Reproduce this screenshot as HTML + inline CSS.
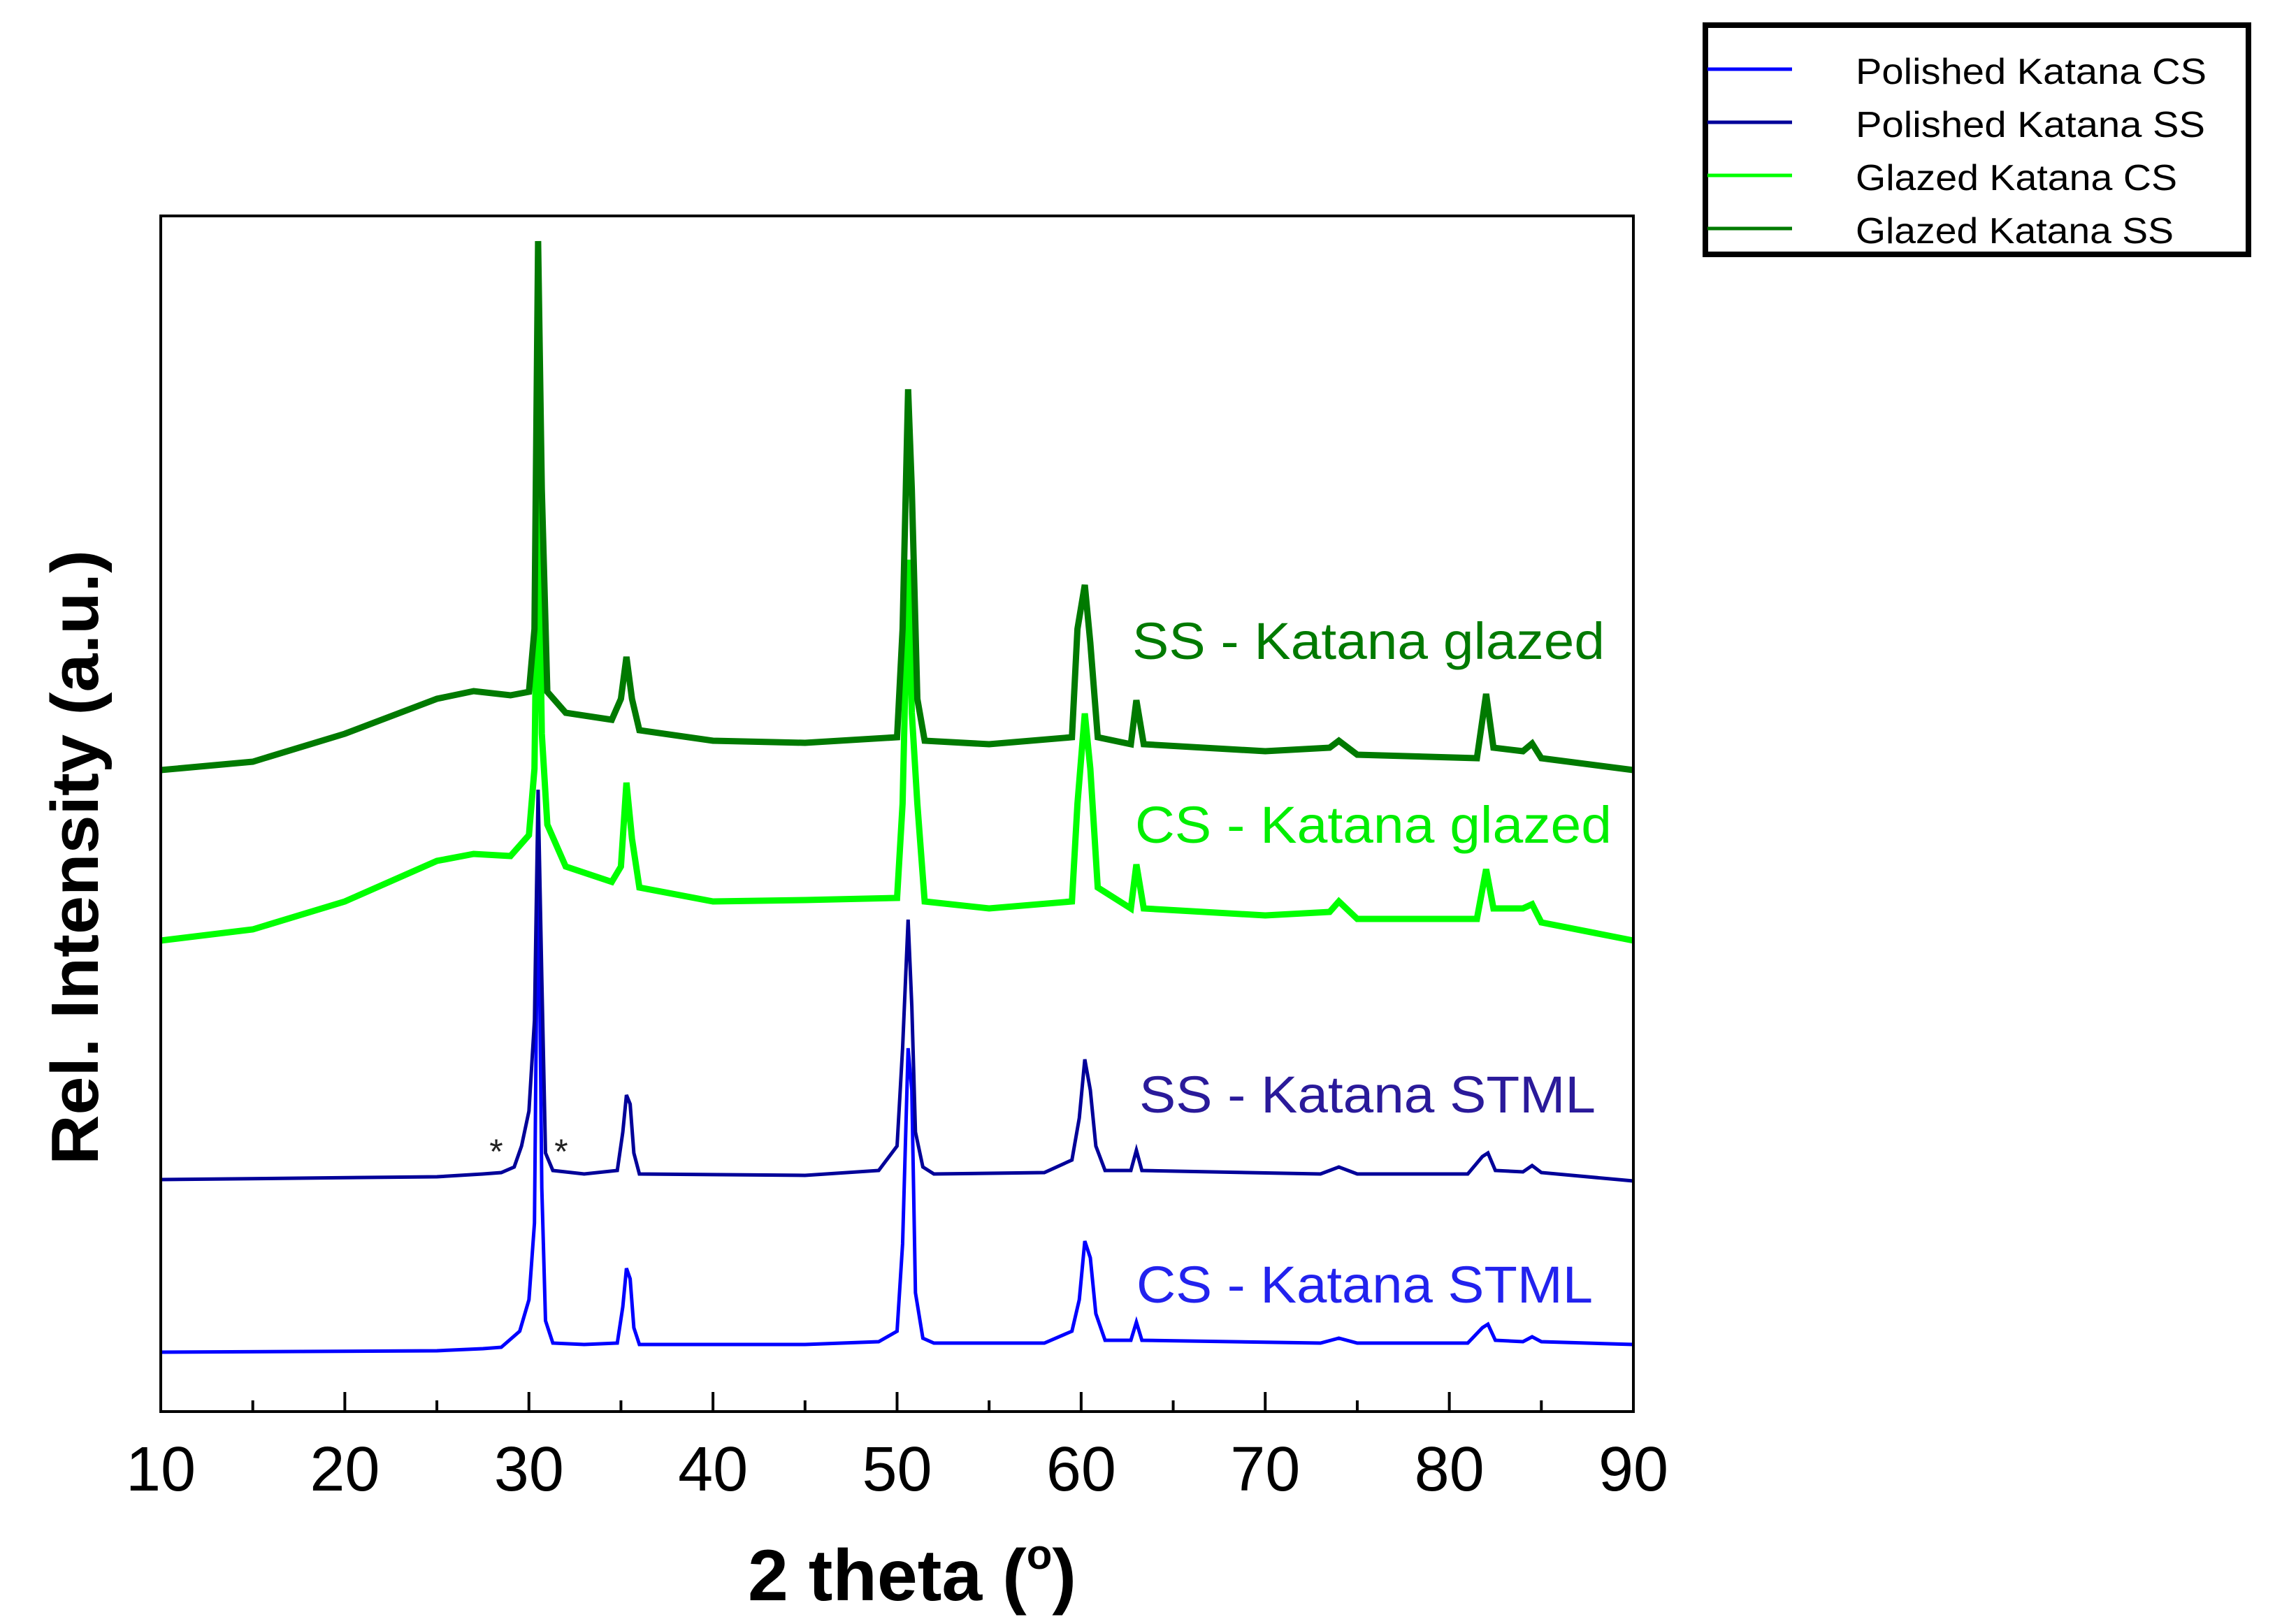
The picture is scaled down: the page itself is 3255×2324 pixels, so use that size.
<!DOCTYPE html>
<html><head><meta charset="utf-8"><style>
html,body{margin:0;padding:0;background:#fff;}
svg{display:block;font-family:"Liberation Sans",sans-serif;}
</style></head><body>
<svg id="chart" width="3255" height="2324" viewBox="0 0 3255 2324" xmlns="http://www.w3.org/2000/svg">
<rect x="0" y="0" width="3255" height="2324" fill="#fff"/>
<g id="series"></g>
<g id="axes"></g>
<rect x="230" y="309" width="2107" height="1711" fill="none" stroke="#000" stroke-width="4"/>
<text x="1620" y="943" font-size="74" fill="#007A00" textLength="676" lengthAdjust="spacingAndGlyphs">SS - Katana glazed</text>
<text x="1624" y="1206" font-size="74" fill="#00EE00" textLength="682" lengthAdjust="spacingAndGlyphs">CS - Katana glazed</text>
<text x="1630" y="1592" font-size="74" fill="#2a1a9a" textLength="653" lengthAdjust="spacingAndGlyphs">SS - Katana STML</text>
<text x="1626" y="1864" font-size="74" fill="#2222ee" textLength="653" lengthAdjust="spacingAndGlyphs">CS - Katana STML</text>
<text x="710" y="1665" font-size="50" text-anchor="middle" fill="#222">*</text>
<text x="803" y="1665" font-size="50" text-anchor="middle" fill="#222">*</text>
<text x="1305" y="2290" font-size="104" font-weight="bold" text-anchor="middle">2 theta (<tspan font-size="60" dy="-45">o</tspan><tspan dy="45">)</tspan></text>
<text transform="translate(140,1227) rotate(-90)" font-size="96" font-weight="bold" text-anchor="middle" textLength="880" lengthAdjust="spacingAndGlyphs">Rel. Intensity (a.u.)</text>
<g>
<rect x="2440" y="36" width="777" height="328" fill="#fff" stroke="#000" stroke-width="8"/>
<line x1="2443" y1="99" x2="2564" y2="99" stroke="#0000FF" stroke-width="5"/>
<line x1="2443" y1="175" x2="2564" y2="175" stroke="#000099" stroke-width="5"/>
<line x1="2443" y1="251" x2="2564" y2="251" stroke="#00FF00" stroke-width="5"/>
<line x1="2443" y1="327" x2="2564" y2="327" stroke="#007A00" stroke-width="5"/>
<text x="2655" y="120" font-size="52" textLength="502" lengthAdjust="spacingAndGlyphs">Polished Katana CS</text>
<text x="2655" y="196" font-size="52" textLength="500" lengthAdjust="spacingAndGlyphs">Polished Katana SS</text>
<text x="2655" y="272" font-size="52" textLength="460" lengthAdjust="spacingAndGlyphs">Glazed Katana  CS</text>
<text x="2655" y="348" font-size="52" textLength="455" lengthAdjust="spacingAndGlyphs">Glazed Katana  SS</text>
</g>
</svg>
<script>
const xTicks = [10,20,30,40,50,60,70,80,90];
const xMinor = [15,25,35,45,55,65,75,85];
const csStmlX = [10,25,27.5,28.5,29.5,30,30.3,30.5,30.7,30.9,31.3,33,34.8,35.1,35.3,35.5,35.7,36,45,49,50,50.3,50.6,50.8,51,51.4,52,58,59.5,59.9,60.2,60.5,60.8,61.3,62.7,63,63.3,73,74,75,81,81.8,82.1,82.5,84,84.5,85,90];
const csStmlY = [85,87,90,92,115,160,270,840,320,130,98,96,98,150,205,190,120,96,96,100,115,240,520,460,170,105,98,98,115,160,244,220,140,102,102,128,102,98,105,98,98,120,125,102,100,107,100,96];
const ssStmlX = [10,25,27.5,28.5,29.2,29.6,30,30.3,30.5,30.7,30.9,31.3,33,34.8,35.1,35.3,35.5,35.7,36,45,49,50,50.3,50.6,50.8,51,51.4,52,58,59.5,59.9,60.2,60.5,60.8,61.3,62.7,63,63.3,73,74,75,81,81.8,82.1,82.5,84,84.5,85,90];
const ssStmlY = [332,336,340,342,350,380,430,560,890,620,370,345,340,345,400,453,440,370,340,338,345,380,520,704,580,400,350,340,342,360,420,504,460,380,345,345,374,345,340,350,340,340,365,370,345,343,352,342,330];
const glazedX = [10,15,20,25,27,29,30,30.3,30.5,30.7,31,32,34.5,35,35.3,35.6,36,40,45,50,50.3,50.6,50.8,51.1,51.5,55,59.5,59.8,60.2,60.5,60.9,62.7,63,63.4,70,73.5,74,75,81.5,82,82.4,84,84.5,85,90];
const csGlazedY = [674,690,730,788,798,795,825,920,1340,970,840,780,758,780,900,820,750,730,732,735,870,1219,1000,870,730,720,730,870,999,920,750,720,783,720,710,715,730,705,705,776,720,720,726,700,674];
const ssGlazedY = [918,930,970,1020,1031,1025,1030,1120,1675,1320,1030,1000,990,1020,1080,1020,975,960,957,965,1120,1463,1320,1020,960,955,965,1120,1183,1100,965,955,1018,955,945,950,960,940,935,1027,950,945,956,935,918];

const X0=230, X1=2337, Y0=2020, Y1=309;
function xs(v){return X0+(v-10)/(90-10)*(X1-X0);}
function ys(v){return Y0-(v-0)/(1711-0)*(Y0-Y1);}
const NS="http://www.w3.org/2000/svg";
const sg=document.getElementById('series');
function draw(xa,ya,color,w,name){
  const p=document.createElementNS(NS,'polyline');
  p.setAttribute('points',xa.map((x,i)=>xs(x).toFixed(1)+','+ys(ya[i]).toFixed(1)).join(' '));
  p.setAttribute('fill','none');p.setAttribute('stroke',color);p.setAttribute('stroke-width',w);
  p.setAttribute('stroke-linejoin','miter');
  
  
  sg.appendChild(p);
}
draw(csStmlX,csStmlY,'#0000FF',5,'series-cs-stml');
draw(ssStmlX,ssStmlY,'#000099',5,'series-ss-stml');
draw(glazedX,csGlazedY,'#00FF00',9,'series-cs-glazed');
draw(glazedX,ssGlazedY,'#007A00',9,'series-ss-glazed');
const ag=document.getElementById('axes');
xTicks.forEach(t=>{
  const l=document.createElementNS(NS,'line');
  l.setAttribute('x1',xs(t));l.setAttribute('x2',xs(t));l.setAttribute('y1',Y0);l.setAttribute('y2',Y0-28);
  l.setAttribute('stroke','#000');l.setAttribute('stroke-width',4);
  
  
  ag.appendChild(l);
  const tx=document.createElementNS(NS,'text');
  tx.setAttribute('x',xs(t));tx.setAttribute('y',2133);tx.setAttribute('font-size',90);tx.setAttribute('text-anchor','middle');
  tx.textContent=t;
  
  
  ag.appendChild(tx);
});
xMinor.forEach(t=>{
  const l=document.createElementNS(NS,'line');
  l.setAttribute('x1',xs(t));l.setAttribute('x2',xs(t));l.setAttribute('y1',Y0);l.setAttribute('y2',Y0-16);
  l.setAttribute('stroke','#000');l.setAttribute('stroke-width',4);
  
  
  ag.appendChild(l);
});
</script>
</body></html>
